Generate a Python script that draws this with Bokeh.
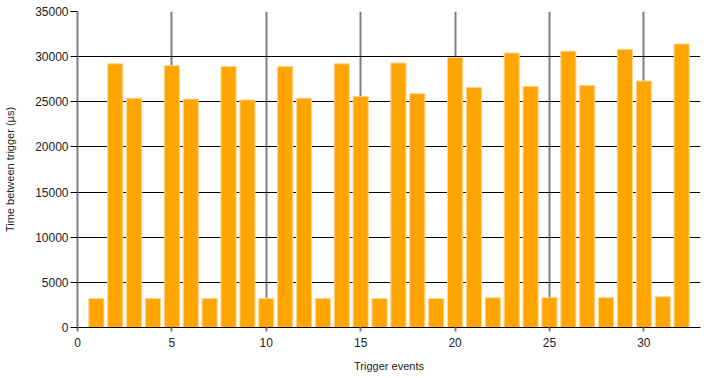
from bokeh.plotting import figure
from bokeh.models import SingleIntervalTicker, Range1d, ColumnDataSource
from bokeh.embed import file_html
from bokeh.resources import INLINE

events = list(range(1, 33))
times = [3200, 29200, 25400, 3200, 29000, 25300, 3200, 28900, 25200, 3200,
         28900, 25400, 3200, 29200, 25600, 3200, 29300, 25900, 3200, 29900,
         26600, 3300, 30400, 26700, 3300, 30600, 26800, 3300, 30800, 27300,
         3400, 31400]

src = ColumnDataSource(dict(x=events, y=times))

p = figure(frame_width=623, frame_height=316, output_backend="svg", toolbar_location=None,
           x_range=Range1d(0, 33), y_range=Range1d(0, 35000),
           min_border_left=77, min_border_right=7, min_border_top=11, min_border_bottom=10)
p.outline_line_color = None
p.background_fill_color = "white"

p.vbar(x="x", top="y", width=0.8, source=src, fill_color="#FFA500",
       line_color="#FFD38A", line_width=1)

p.xaxis.ticker = SingleIntervalTicker(interval=5)
p.yaxis.ticker = SingleIntervalTicker(interval=5000)

p.xgrid.grid_line_color = "#808080"
p.xgrid.grid_line_width = 2
p.ygrid.grid_line_color = "black"
p.ygrid.grid_line_width = 1

p.xaxis.axis_line_color = "black"
p.xaxis.axis_line_width = 1
p.xaxis.major_tick_line_color = "#808080"
p.xaxis.major_tick_line_width = 2
p.xaxis.major_tick_out = 4
p.xaxis.major_tick_in = 0
p.xaxis.minor_tick_line_color = None

p.yaxis.axis_line_color = "#808080"
p.yaxis.axis_line_width = 2
p.yaxis.major_tick_line_color = "black"
p.yaxis.major_tick_out = 7
p.yaxis.major_tick_in = 0
p.yaxis.minor_tick_line_color = None

for ax in (p.xaxis, p.yaxis):
    ax.major_label_text_font = "Liberation Sans"
    ax.major_label_text_font_size = "12px"
    ax.major_label_text_color = "#222222"
    ax.axis_label_text_font = "Liberation Sans"
    ax.axis_label_text_font_size = "11px"
    ax.axis_label_text_font_style = "normal"
    ax.axis_label_text_color = "#222222"

p.xaxis.axis_label = "Trigger events"
p.yaxis.axis_label = "Time between trigger (µs)"
p.xaxis.major_label_standoff = 6
p.yaxis.major_label_standoff = 2
p.xaxis.axis_label_standoff = 10
p.yaxis.axis_label_standoff = 16

open("out.html", "w").write(file_html(p, INLINE))
